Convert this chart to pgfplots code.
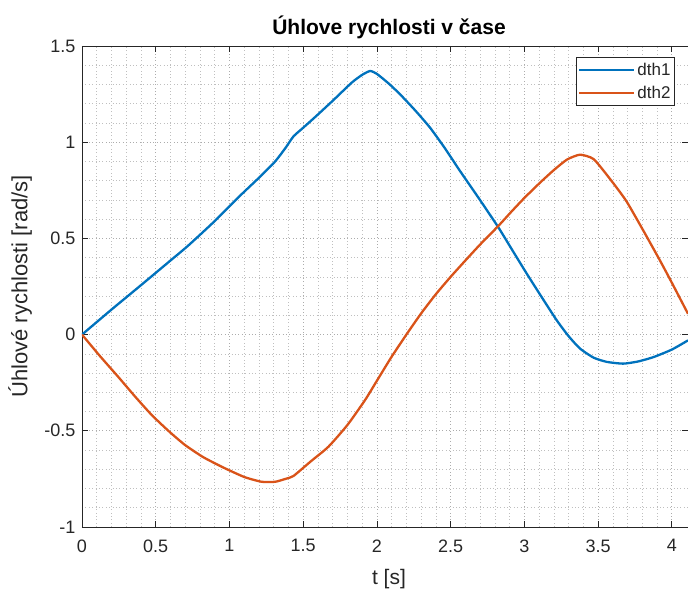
\documentclass[border=0pt]{standalone}
\usepackage{fontspec}
\setmainfont{Liberation Sans}
\usepackage{pgfplots}
\pgfplotsset{compat=1.18}
\definecolor{mblue}{rgb}{0,0.447,0.741}
\definecolor{morange}{rgb}{0.85,0.325,0.098}
\definecolor{axc}{rgb}{0.15,0.15,0.15}
\begin{document}
\begin{tikzpicture}
\begin{axis}[
  scale only axis, width=606pt, height=481pt,
  xmin=0, xmax=4.11, ymin=-1, ymax=1.5,
  xtick={0,0.5,1,1.5,2,2.5,3,3.5,4},
  ytick={-1,-0.5,0,0.5,1,1.5},
  minor x tick num=4, minor y tick num=4,
  grid=both,
  major grid style={gray!65, line width=0.6pt, dash pattern=on 0.8pt off 2.6pt},
  minor grid style={gray!50, line width=0.6pt, dash pattern=on 0.8pt off 2.6pt},
  tick align=inside,
  major tick length=6pt, minor tick length=0pt,
  tick style={axc, line width=0.7pt},
  axis line style={axc, line width=0.9pt},
  /pgf/number format/assume math mode=true,
  tick label style={font=\fontsize{18}{21}\selectfont, text=axc},
  xticklabel style={yshift=-9pt},
  yticklabel style={xshift=-3pt},
  xlabel={t [s]}, ylabel={Úhlové rychlosti [rad/s]},
  xlabel style={font=\fontsize{21}{25}\selectfont, text=axc, at={(axis description cs:0.5066,-0.108)}, anchor=center},
  ylabel style={font=\fontsize{22}{26}\selectfont, text=axc, at={(axis description cs:-0.1023,0.5)}, anchor=center, rotate=0},
  title={Úhlove rychlosti v čase},
  title style={font=\bfseries\fontsize{21}{25}\selectfont, at={(axis description cs:0.5066,1.027)}, anchor=center},
  legend style={at={(axis description cs:0.9785,0.977)}, anchor=north east, draw=axc, line width=0.8pt, fill=white,
    font=\fontsize{17}{20}\selectfont, inner xsep=2pt, inner ysep=3.5pt, row sep=5pt,
    nodes={inner sep=2pt, text=axc}},
  legend cell align=left,
  legend image code/.code={\draw[#1, line width=2.3pt] (0pt,0pt) -- (55pt,0pt);},
]
\addplot[mblue, line width=2.3pt, smooth, tension=0.35] coordinates {
(0,0) (0.2,0.13) (0.405,0.26) (0.6,0.385) (0.721,0.463) (0.9,0.59) (1.06,0.713)
(1.2,0.815) (1.31,0.90) (1.38,0.97) (1.434,1.03) (1.5,1.075) (1.58,1.13) (1.7,1.215)
(1.83,1.31) (1.9,1.35) (1.954,1.37) (2.0,1.355) (2.08,1.305) (2.157,1.249) (2.26,1.165) (2.36,1.076) (2.46,0.97) (2.564,0.85)
(2.69,0.71) (2.824,0.557) (2.92,0.437) (3.017,0.316) (3.12,0.192) (3.22,0.074) (3.3,-0.008) (3.378,-0.073) (3.47,-0.12) (3.56,-0.142)
(3.67,-0.151) (3.77,-0.14) (3.876,-0.117) (4.0,-0.078) (4.11,-0.03)
};
\addlegendentry{dth1}
\addplot[morange, line width=2.3pt, smooth, tension=0.35] coordinates {
(0,0) (0.12,-0.11) (0.246,-0.22) (0.36,-0.322) (0.473,-0.418) (0.59,-0.503) (0.699,-0.574) (0.82,-0.636) (0.948,-0.687) (1.1,-0.74)
(1.219,-0.765) (1.31,-0.765) (1.38,-0.75) (1.434,-0.735) (1.55,-0.66) (1.671,-0.583)
(1.8,-0.47) (1.92,-0.34) (2.0,-0.24) (2.1,-0.115) (2.2,0.0) (2.3,0.11) (2.4,0.21) (2.5,0.3) (2.6,0.385)
(2.7,0.468) (2.824,0.565) (2.91,0.637) (3.0,0.71) (3.107,0.79) (3.2,0.855) (3.29,0.91) (3.378,0.935) (3.47,0.912)
(3.58,0.81) (3.69,0.696) (3.8,0.55) (3.92,0.385) (4.0,0.27) (4.11,0.108)
};
\addlegendentry{dth2}
\coordinate (sw) at (rel axis cs:0,0);
\coordinate (ne) at (rel axis cs:1,1);
\end{axis}
\pgfresetboundingbox
\path[use as bounding box] ([xshift=-82pt,yshift=-63pt]sw) rectangle ([yshift=46pt]ne);
\end{tikzpicture}
\end{document}
